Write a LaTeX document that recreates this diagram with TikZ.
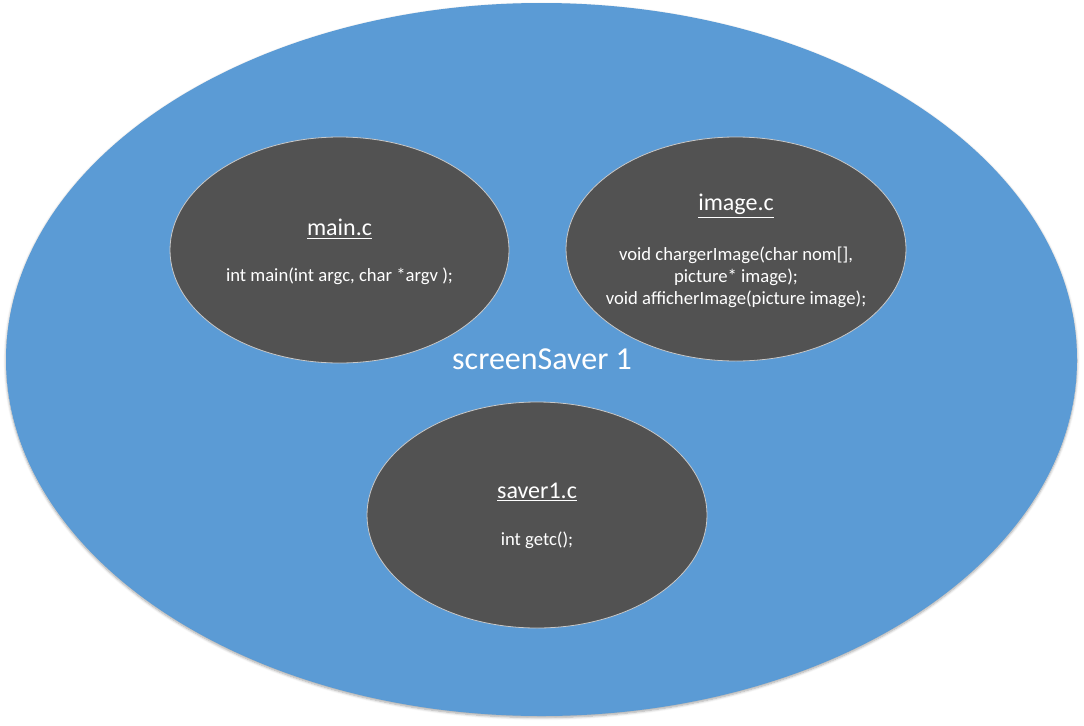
\documentclass[tikz,border=0pt]{standalone}
\usepackage{fontspec}
\setmainfont{Carlito}
\usetikzlibrary{shapes.geometric,shadows.blur}
\definecolor{outerblue}{HTML}{5B9BD5}
\definecolor{innergray}{HTML}{525252}
\definecolor{rimgray}{HTML}{C8C8C8}
\tikzset{
  outerell/.style={ellipse, fill=outerblue, draw=none, inner sep=0pt,
    blur shadow={shadow xshift=0pt, shadow yshift=-1.2pt, shadow blur steps=6, shadow opacity=35}},
  fileell/.style={ellipse, fill=innergray, draw=rimgray, line width=0.6pt, inner sep=0pt},
  titletxt/.style={text=white, font=\fontsize{18}{21}\selectfont, inner sep=0pt},
  bodytxt/.style={text=white, font=\fontsize{14}{16.5}\selectfont, align=center, inner sep=0pt},
  bigtxt/.style={text=white, font=\fontsize{24}{28}\selectfont, inner sep=0pt}
}
\begin{document}
\begin{tikzpicture}[x=0.75pt,y=-0.75pt]
\useasboundingbox (0,0) rectangle (1084,725);
\node[outerell, minimum width=1071*0.75pt, minimum height=713*0.75pt] (outer) at (541.5,359.5) {};
\node[fileell, minimum width=339*0.75pt, minimum height=226*0.75pt] (mainell) at (339.5,250) {};
\node[fileell, minimum width=340*0.75pt, minimum height=224*0.75pt] (imageell) at (736,249) {};
\node[fileell, minimum width=340*0.75pt, minimum height=226*0.75pt] (saverell) at (537,515) {};
\node[bigtxt] (lbl) at (542,359) {screenSaver 1};
\node[titletxt] (maint) at (339.5,229) {\underline{main.c}};
\node[bodytxt] (mainb) at (339.5,276) {int main(int argc, char *argv );};
\node[titletxt] (imaget) at (736,206) {\underline{image.c}};
\node[bodytxt] (imageb) at (736,277) {void chargerImage(char nom[],\\picture* image);\\void afficherImage(picture image);};
\node[titletxt] (savert) at (537,492) {\underline{saver1.c}};
\node[bodytxt] (saverb) at (537,540) {int getc();};
\end{tikzpicture}
\end{document}
